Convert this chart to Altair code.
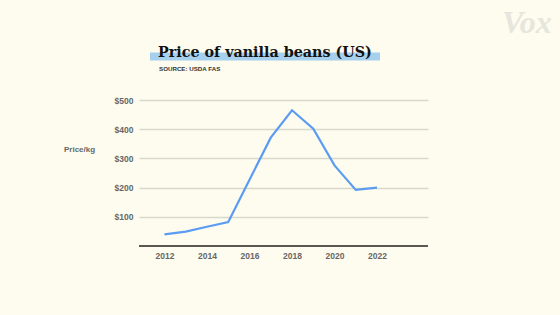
import altair as alt
import pandas as pd

years = [2012, 2013, 2014, 2015, 2016, 2017, 2018, 2019, 2020, 2021, 2022]
prices = [40, 49, 66, 82, 227, 371, 465, 402, 276, 192, 200]
y_ticks = [100, 200, 300, 400, 500]
x_ticks = [2012, 2014, 2016, 2018, 2020, 2022]

df = pd.DataFrame({"year": years, "price": prices})
one = pd.DataFrame({"a": [0]})

W, H = 289, 146
BG = "#fdfcef"

xscale = alt.Scale(domain=[2010.8, 2024.4], nice=False, zero=False)
yscale = alt.Scale(domain=[0, 500], nice=False)

line = alt.Chart(df).mark_line(color="#5b9cf2", strokeWidth=2.2).encode(
    x=alt.X("year:Q", scale=xscale, axis=alt.Axis(
        values=x_ticks, format="d", title=None, ticks=False, domain=False, grid=False,
        labelFont="Liberation Sans", labelFontWeight="bold", labelFontSize=8.5,
        labelColor="#666666", labelPadding=5)),
    y=alt.Y("price:Q", scale=yscale, axis=alt.Axis(
        values=y_ticks, format="$d", title=None, ticks=False, domain=False, grid=True,
        gridColor="#d8d8cc", gridWidth=1.4,
        labelFont="Liberation Sans", labelFontWeight="bold", labelFontSize=8.5,
        labelColor="#666666", labelPadding=6)),
)

base_rule = alt.Chart(one).mark_rule(color="#222222", strokeWidth=1.5).encode(
    y=alt.value(H), x=alt.value(0), x2=alt.value(W),
)

highlight = alt.Chart(one).mark_rect(color="#a6d0ee").encode(
    x=alt.value(11), x2=alt.value(241), y=alt.value(-47.5), y2=alt.value(-39.5)
)

title = alt.Chart(one).mark_text(
    text="Price of vanilla beans (US)", font="DejaVu Serif", fontWeight="bold",
    fontSize=14.3, align="left", baseline="alphabetic", color="#111111"
).encode(x=alt.value(19), y=alt.value(-43.5))

source = alt.Chart(one).mark_text(
    text="SOURCE: USDA FAS", font="Liberation Sans", fontWeight="bold",
    fontSize=6.2, align="left", baseline="middle", color="#333333"
).encode(x=alt.value(20), y=alt.value(-31))

ylabel = alt.Chart(one).mark_text(
    text="Price/kg", font="Liberation Sans", fontWeight="bold",
    fontSize=8, align="left", baseline="middle", color="#666666"
).encode(x=alt.value(-75), y=alt.value(50))

vox = alt.Chart(one).mark_text(
    text="Vox", font="Liberation Serif", fontWeight="bold", fontStyle="italic",
    fontSize=32, align="left", baseline="alphabetic", color="#e6e6dc"
).encode(x=alt.value(363), y=alt.value(-67))

chart = alt.layer(vox, highlight, title, source, ylabel, line, base_rule).properties(
    width=W, height=H, background=BG,
    padding={"left": 139, "top": 100, "right": 132, "bottom": 69},
    autosize=alt.AutoSizeParams(type="none"),
).configure_view(stroke=None)

chart.save("out.html", embed_options={"renderer": "svg", "actions": False})
